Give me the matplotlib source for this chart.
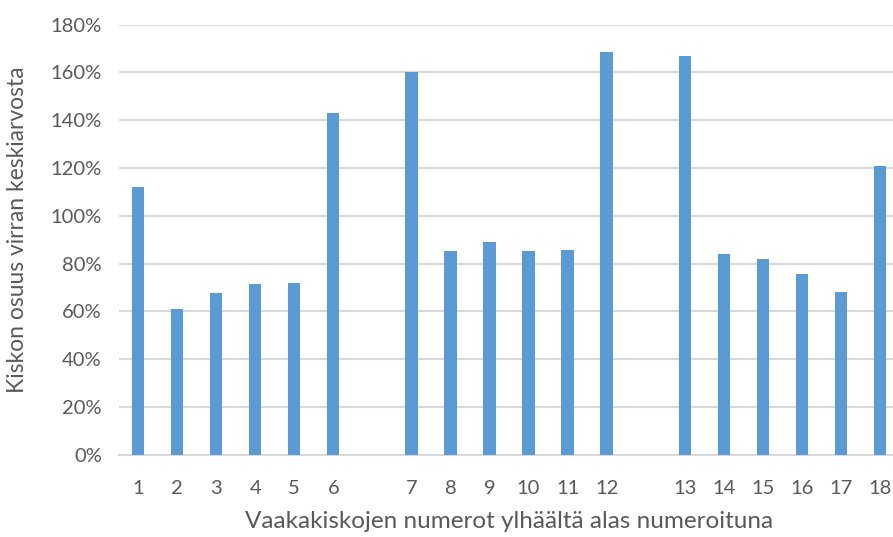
import matplotlib
matplotlib.use("Agg")
from matplotlib import pyplot as plt
from matplotlib.ticker import PercentFormatter

# Rail numbers (empty slots between groups) and share of mean current (%)
labels = ["1", "2", "3", "4", "5", "6", "",
          "7", "8", "9", "10", "11", "12", "",
          "13", "14", "15", "16", "17", "18"]
values = [112, 61, 67.5, 71.5, 71.7, 143, None,
          160, 85.2, 89, 85.2, 85.6, 168.6, None,
          167, 83.8, 82, 75.5, 68.2, 121]

yticks = list(range(0, 181, 20))

plt.rcParams["font.family"] = ["Lato", "DejaVu Sans"]
text_color = "#595959"

fig = plt.figure(figsize=(8.93, 5.37), dpi=100)
ax = fig.add_axes([0.1327, 0.1533, 0.8746, 0.801])

xs = [i for i, v in enumerate(values) if v is not None]
hs = [v for v in values if v is not None]
ax.bar(xs, hs, width=0.315, color="#5b9bd5", zorder=3)

ax.set_xlim(-0.5, len(labels) - 0.5)
ax.set_ylim(0, 180)
ax.set_yticks(yticks)
ax.yaxis.set_major_formatter(PercentFormatter(decimals=0))
ax.set_xticks(range(len(labels)))
ax.set_xticklabels(labels)

ax.grid(axis="y", color="#d9d9d9", linewidth=1.5, zorder=0)
for s in ["top", "right", "left"]:
    ax.spines[s].set_visible(False)
ax.spines["bottom"].set_color("#d9d9d9")
ax.spines["bottom"].set_linewidth(1.5)

ax.tick_params(axis="both", length=0, labelsize=14.5, colors=text_color)
ax.tick_params(axis="x", pad=18)
ax.tick_params(axis="y", pad=12)

ax.set_xlabel("Vaakakiskojen numerot ylhäältä alas numeroituna",
              fontsize=17.5, color=text_color, labelpad=10)
ax.set_ylabel("Kiskon osuus virran keskiarvosta",
              fontsize=16.5, color=text_color)
ax.yaxis.set_label_coords(-0.116, 0.522)

fig.savefig("out.png", dpi=100)
